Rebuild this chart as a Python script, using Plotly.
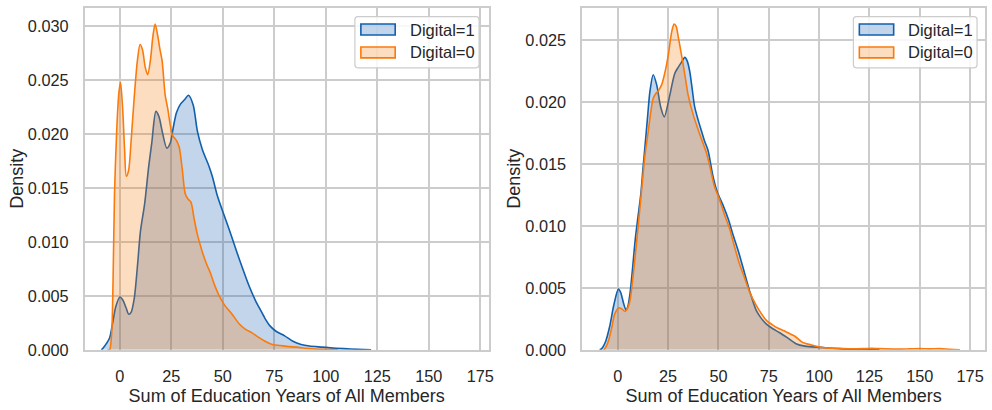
import plotly.graph_objects as go
from plotly.subplots import make_subplots

# ---- Data: kernel density estimates, household education years ----
# Left panel
left_d1_x = [-9, -8, -6.5, -5, -3.5, -2, 0, 1.5, 3, 4.3, 5.5, 7, 8.5, 10, 12, 14, 15.5, 17.5, 19,
             20.5, 22.8, 24.5, 26, 27.5, 29.5, 31.5, 33.3, 35.6, 37.6, 40, 43.3, 45, 47.3, 50, 53,
             56, 58, 61, 63, 66, 68, 70.5, 73, 76, 80, 84, 88, 92, 98, 105, 112, 122]
left_d1_y = [0, 0.0002, 0.0006, 0.0011, 0.0025, 0.0040, 0.0049, 0.0046, 0.0039, 0.0033, 0.0035,
             0.0048, 0.0077, 0.0110, 0.0135, 0.0170, 0.0192, 0.0221, 0.0216, 0.0203, 0.0187, 0.0192,
             0.0207, 0.0220, 0.0228, 0.0232, 0.0236, 0.0227, 0.0203, 0.0186, 0.0170, 0.0160, 0.0143,
             0.0128, 0.0112, 0.0095, 0.0084, 0.0068, 0.0058, 0.0045, 0.0038, 0.0029, 0.0022, 0.0017,
             0.0013, 0.0008, 0.0005, 0.00035, 0.00025, 0.00015, 0.00008, 0]

left_d0_x = [-6, -5, -4, -3.3, -2.6, -1.5, -0.5, 0.3, 1.3, 2.3, 3.1, 4.2, 5.5, 7, 8.5, 9.8, 11,
             12.3, 13.5, 14.8, 16, 17.1, 18.3, 19.5, 20.5, 22, 23.2, 24.5, 25.5, 27.5, 28.8, 30.3,
             31.7, 33, 34.5, 36, 37.5, 40, 42, 44, 46, 48, 51, 54.5, 58, 61, 64, 67, 70.5, 74, 78,
             82, 86, 90, 95, 100, 106]
left_d0_y = [0, 0, 0.0015, 0.0065, 0.0145, 0.0205, 0.0238, 0.0248, 0.0225, 0.0185, 0.0161, 0.0166,
             0.0195, 0.0235, 0.0268, 0.0283, 0.0278, 0.0262, 0.0255, 0.0268, 0.0290, 0.0302, 0.0292,
             0.0278, 0.0268, 0.0236, 0.0224, 0.0208, 0.0199, 0.0194, 0.0188, 0.0167, 0.0145, 0.0140,
             0.0137, 0.0122, 0.0108, 0.0091, 0.0080, 0.0071, 0.0060, 0.0051, 0.0041, 0.0033, 0.0024,
             0.0019, 0.0016, 0.0012, 0.0008, 0.0005, 0.0004, 0.0003, 0.00025, 0.00015, 0.00008,
             0.00004, 0]

# Right panel
right_d1_x = [-9, -8, -6, -4, -2, 0.3, 1.5, 2.8, 4.1, 5, 6.1, 7.3, 8.6, 10, 11.4, 12.5, 13.5, 14.8,
              16, 17.6, 19.3, 21.3, 23.1, 25.5, 28.3, 30, 31.6, 33.3, 34.5, 35.7, 37, 38.2, 40, 41.5,
              43, 44.8, 47.3, 49.5, 52.2, 55, 57.2, 60, 62.1, 65.4, 68.7, 71, 73.7, 77, 80.2, 84,
              88.5, 93, 101, 110, 120, 130]
right_d1_y = [0, 0.0001, 0.0007, 0.0019, 0.0036, 0.0049, 0.0046, 0.0038, 0.0032, 0.0035, 0.0046,
              0.0065, 0.0088, 0.0107, 0.0125, 0.0146, 0.0164, 0.0188, 0.0209, 0.0222, 0.0214, 0.0196,
              0.0188, 0.0203, 0.0223, 0.0228, 0.0232, 0.0236, 0.0233, 0.0225, 0.0210, 0.0196, 0.0185,
              0.0177, 0.0169, 0.0161, 0.0140, 0.0127, 0.0117, 0.0105, 0.0093, 0.0079, 0.0067, 0.0048,
              0.0032, 0.0026, 0.0021, 0.0017, 0.0014, 0.0010, 0.0005, 0.0003, 0.0002, 0.0001,
              0.00004, 0]

right_d0_x = [-7, -6, -4.5, -3, -1.5, 0.5, 2, 3.6, 5, 6.1, 7.3, 8.6, 10.2, 11.9, 13.5, 15.2, 16.5,
              17.6, 19, 20.1, 21.8, 23, 24.2, 25.3, 26.2, 27.1, 28, 29, 30, 31.2, 32.5, 33.7, 34.9,
              37.4, 40.7, 44, 46, 48, 50.6, 53, 55.5, 58, 60.5, 63, 65.4, 68.7, 71, 73.7, 77, 80.2,
              83, 85.5, 88, 91.8, 96, 101, 108, 115, 122, 126, 130, 138, 145, 150, 155, 160, 165, 170]
right_d0_y = [0, 0.0002, 0.0008, 0.0018, 0.0029, 0.0034, 0.0033, 0.0031, 0.0034, 0.0040, 0.0055,
              0.0075, 0.0101, 0.0130, 0.0157, 0.0177, 0.0193, 0.0203, 0.0207, 0.0209, 0.0214, 0.0221,
              0.0230, 0.0240, 0.0251, 0.0259, 0.0263, 0.0261, 0.0253, 0.0242, 0.0230, 0.0218, 0.0206,
              0.0190, 0.0174, 0.0159, 0.0146, 0.0132, 0.0121, 0.0109, 0.0098, 0.0083, 0.0069, 0.0058,
              0.0047, 0.0036, 0.0030, 0.0024, 0.0020, 0.0017, 0.0015, 0.0013, 0.0011, 0.0006, 0.0004,
              0.0002, 0.00012, 0.00008, 0.0001, 0.00013, 0.0001, 0.00006, 0.00008, 0.0001, 0.00008,
              0.0001, 0.00004, 0]

series_names = ["Digital=1", "Digital=0"]
x_ticks = [0, 25, 50, 75, 100, 125, 150, 175]
left_y_ticks = [0.0, 0.005, 0.010, 0.015, 0.020, 0.025, 0.030]
right_y_ticks = [0.0, 0.005, 0.010, 0.015, 0.020, 0.025]
x_title = "Sum of Education Years of All Members"
y_title = "Density"

# ---- Styling ----
W, H = 992, 410
FONT = "Arial, Liberation Sans, sans-serif"
TEXT = "#262626"
GRID = "#cccccc"
line_colors = ["#1060ae", "#fb7a0c"]
fill_colors = ["rgba(16,88,172,0.25)", "rgba(248,118,4,0.25)"]


def px_x(p):
    return p / W


def px_y(p):
    return 1 - p / H


fig = make_subplots(rows=1, cols=2)

panels = [
    (1, [(left_d1_x, left_d1_y), (left_d0_x, left_d0_y)]),
    (2, [(right_d1_x, right_d1_y), (right_d0_x, right_d0_y)]),
]
for col, series in panels:
    for i, (xs, ys) in enumerate(series):
        fig.add_trace(
            go.Scatter(
                x=xs, y=ys, mode="lines", name=series_names[i],
                line=dict(color=line_colors[i], width=1.6, shape="spline", smoothing=0.8),
                fill="tozeroy", fillcolor=fill_colors[i], showlegend=False,
            ),
            row=1, col=col,
        )

axis_common = dict(
    showgrid=True, gridcolor=GRID, gridwidth=1.8,
    showline=True, linecolor=GRID, linewidth=2, mirror=True,
    zeroline=False, ticks="", ticklabelstandoff=11,
    tickfont=dict(family=FONT, size=16.3, color=TEXT),
    title_font=dict(family=FONT, size=18, color=TEXT),
)

y_dom = [px_y(357.7), px_y(8)]
fig.update_layout(
    width=W, height=H,
    margin=dict(l=0, r=0, t=0, b=0),
    paper_bgcolor="white", plot_bgcolor="white",
    font=dict(family=FONT, color=TEXT),
    xaxis=dict(axis_common, domain=[px_x(85.3), px_x(491)], range=[-17, 179],
               tickvals=x_ticks, title=dict(text=x_title, standoff=5)),
    xaxis2=dict(axis_common, domain=[px_x(585.3), px_x(990)], range=[-17.6, 182.4],
                tickvals=x_ticks, title=dict(text=x_title, standoff=5)),
    yaxis=dict(axis_common, domain=y_dom, range=[0, 0.0317],
               tickvals=left_y_ticks, tickformat=".3f", title=dict(text=y_title, standoff=0)),
    yaxis2=dict(axis_common, domain=y_dom, range=[0, 0.0276],
                tickvals=right_y_ticks, tickformat=".3f", title=dict(text=y_title, standoff=0)),
)

# ---- Legends (one per panel) ----
def rounded_rect(x0, y0, x1, y1, r=3):
    X0, X1 = px_x(x0), px_x(x1)
    Y0, Y1 = px_y(y0), px_y(y1)
    rx, ry = r / W, r / H
    return (f"M {X0+rx},{Y0} L {X1-rx},{Y0} Q {X1},{Y0} {X1},{Y0-ry} "
            f"L {X1},{Y1+ry} Q {X1},{Y1} {X1-rx},{Y1} L {X0+rx},{Y1} "
            f"Q {X0},{Y1} {X0},{Y1+ry} L {X0},{Y0-ry} Q {X0},{Y0} {X0+rx},{Y0} Z")


legend_boxes = [(356.7, 17, 481.5, 69.3), (857.7, 17, 982, 69.3)]
shapes, annotations = [], []
for bx0, by0, bx1, by1 in legend_boxes:
    shapes.append(dict(type="path", xref="paper", yref="paper",
                       path=rounded_rect(bx0, by0, bx1, by1),
                       fillcolor="rgba(255,255,255,0.85)", line=dict(color=GRID, width=1.2)))
    for i, name in enumerate(series_names):
        cy = by0 + 13.2 + i * 23.4
        sx0 = bx0 + 6
        shapes.append(dict(type="rect", xref="paper", yref="paper",
                           x0=px_x(sx0), x1=px_x(sx0 + 34.5),
                           y0=px_y(cy - 5.6), y1=px_y(cy + 5.6),
                           fillcolor=fill_colors[i], line=dict(color=line_colors[i], width=1.6)))
        annotations.append(dict(xref="paper", yref="paper", x=px_x(bx0 + 53), y=px_y(cy),
                                xanchor="left", yanchor="middle", showarrow=False, text=name,
                                font=dict(family=FONT, size=16.5, color=TEXT)))

fig.update_layout(shapes=shapes, annotations=annotations)

fig.write_html("out.html")
